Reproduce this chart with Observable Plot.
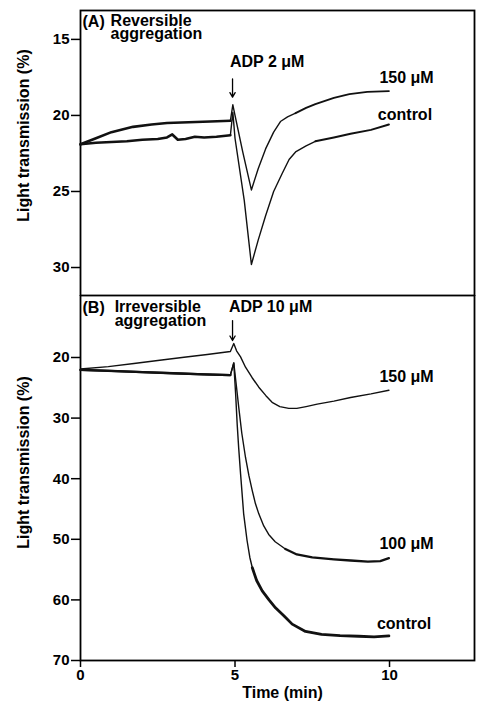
<!DOCTYPE html>
<html><head><meta charset="utf-8">
<script src="https://cdn.jsdelivr.net/npm/d3@7"></script>
<script src="https://cdn.jsdelivr.net/npm/@observablehq/plot@0.6"></script>
<style>
html,body{margin:0;padding:0;background:#fff;}
#chart{width:480px;height:707px;position:relative;overflow:hidden;}
#chart svg{display:block;}
#chart svg + svg{margin-top:-1px;}
</style></head><body><div id="chart"></div>
<script>
// ---------- Data ----------
// Panel A: reversible aggregation, ADP 2 µM
const tA150 = [0, 0.5, 1.0, 1.7, 2.3, 2.8, 3.5, 4.2, 4.85, 4.93, 5.0, 5.25, 5.53, 5.75, 5.99, 6.25, 6.47, 6.7, 6.96, 7.3, 7.6, 8.2, 8.7, 9.28, 9.98];
const vA150 = [21.9, 21.5, 21.1, 20.75, 20.6, 20.5, 20.45, 20.4, 20.35, 19.3, 20.0, 22.4, 24.9, 23.5, 22.2, 21.1, 20.4, 20.1, 19.85, 19.5, 19.25, 18.85, 18.6, 18.45, 18.4];
const tActl = [0, 0.5, 1.0, 1.5, 2.0, 2.5, 2.8, 2.97, 3.15, 3.4, 3.7, 4.0, 4.4, 4.85, 4.93, 5.0, 5.3, 5.53, 5.75, 5.99, 6.25, 6.53, 6.75, 6.96, 7.3, 7.6, 8.2, 8.74, 9.4, 9.98];
const vActl = [21.9, 21.8, 21.75, 21.7, 21.6, 21.55, 21.45, 21.25, 21.6, 21.55, 21.4, 21.45, 21.4, 21.3, 19.8, 21.5, 25.6, 29.8, 28.2, 26.6, 25.0, 23.8, 22.9, 22.4, 22.0, 21.7, 21.45, 21.2, 20.95, 20.6];

// Panel B: irreversible aggregation, ADP 10 µM
const tB150 = [0, 0.9, 1.73, 2.5, 3.35, 4.1, 4.85, 4.96, 5.05, 5.18, 5.34, 5.55, 5.77, 6.0, 6.2, 6.45, 6.74, 7.0, 7.3, 7.66, 8.2, 8.74, 9.4, 9.98];
const vB150 = [21.9, 21.5, 21.0, 20.5, 19.95, 19.5, 19.0, 17.7, 18.9, 19.9, 21.6, 23.3, 24.9, 26.3, 27.4, 28.1, 28.4, 28.4, 28.1, 27.7, 27.2, 26.6, 26.0, 25.4];
const tB100 = [0, 2, 4, 4.85, 4.96, 5.04, 5.12, 5.22, 5.34, 5.45, 5.56, 5.66, 5.77, 5.93, 6.09, 6.3, 6.63, 7.0, 7.5, 8.2, 8.74, 9.3, 9.7, 9.98];
const vB100 = [22.05, 22.4, 22.8, 22.9, 20.9, 24.5, 28.2, 32.5, 36.5, 39.5, 42, 44.1, 45.8, 47.8, 49.2, 50.4, 51.6, 52.5, 53.0, 53.3, 53.5, 53.7, 53.6, 53.1];
const tBctl = [0, 1, 2, 3, 4, 4.85, 4.96, 5.02, 5.07, 5.12, 5.18, 5.28, 5.39, 5.48, 5.56, 5.7, 5.88, 6.1, 6.31, 6.58, 6.85, 7.28, 7.8, 8.4, 9.0, 9.5, 9.98];
const vBctl = [22.05, 22.2, 22.4, 22.6, 22.8, 22.9, 20.9, 26, 31, 35, 39.2, 45.8, 50.2, 53.0, 54.7, 56.8, 58.5, 60.0, 61.3, 62.6, 64.0, 65.2, 65.7, 65.9, 66.0, 66.1, 65.95];

// Axis ticks
const xTicks = [0, 5, 10];
const yTicksA = [15, 20, 25, 30];
const yTicksB = [20, 30, 40, 50, 60, 70];

// Annotations (data coordinates)
const labelsA = [
  {t: 0.0, v: 13.87, text: "(A)", anchor: "start"},
  {t: 6.04, v: 16.5, text: "ADP 2 \u03bcM", anchor: "middle"},
  {t: 10.55, v: 17.5, text: "150 \u03bcM", anchor: "middle"},
  {t: 10.5, v: 19.95, text: "control", anchor: "middle"}
];
const blockA = [{t: 0.91, v: 14.29, text: "Reversible\naggregation"}];
const labelsB = [
  {t: 0.0, v: 11.75, text: "(B)", anchor: "start"},
  {t: 6.15, v: 11.6, text: "ADP 10 \u03bcM", anchor: "middle"},
  {t: 10.55, v: 23.25, text: "150 \u03bcM", anchor: "middle"},
  {t: 10.55, v: 50.7, text: "100 \u03bcM", anchor: "middle"},
  {t: 10.47, v: 63.9, text: "control", anchor: "middle"}
];
const blockB = [{t: 1.04, v: 12.95, text: "Irreversible\naggregation"}];
const arrowA = [{t: 4.92, from: 17.6, to: 18.8}];
const arrowB = [{t: 4.92, from: 13.9, to: 17.2}];

// ---------- Build ----------
const rows = (ts, vs) => ts.map((t, i) => ({t, v: vs[i]}));
const FONT = "'Liberation Sans', Arial, Helvetica, sans-serif";
const common = {
  width: 480, marginLeft: 80, marginRight: 6,
  style: {fontFamily: FONT, fontSize: "15px", fontWeight: "bold", color: "#000", background: "#fff"}
};
const xDomain = [0, 12.75];

function trace(data, segs) {
  return segs.map(([a, b, w]) => Plot.line(data, {
    filter: d => d.t >= a && d.t <= b, x: "t", y: "v",
    stroke: "#111", strokeWidth: w, strokeLinejoin: "round"
  }));
}
function annot(labels) {
  return ["start", "middle"].map(anc => Plot.text(labels.filter(d => d.anchor === anc), {
    x: "t", y: "v", text: "text", textAnchor: anc, fontSize: 16, fill: "#000", dx: anc === "start" ? 2 : 0
  }));
}
function block(data, lh) {
  return Plot.text(data, {x: "t", y: "v", text: "text", textAnchor: "start", lineAnchor: "middle",
    lineHeight: lh, fontSize: 16, fill: "#000", dx: 2});
}
function yTitle(dy) {
  return Plot.text(["Light transmission (%)"], {
    frameAnchor: "left", textAnchor: "middle", rotate: -90, dx: -57, dy, fontSize: 16, fill: "#000"
  });
}

const plotA = Plot.plot({
  ...common, height: 296, marginTop: 10, marginBottom: 1,
  x: {domain: xDomain, axis: null},
  y: {domain: [13.1, 31.84], reverse: true, axis: null},
  marks: [
    Plot.frame({strokeWidth: 1.8}),
    Plot.axisY({ticks: yTicksA, tickSize: 9, tickPadding: 2, strokeWidth: 1.5, label: null, fontSize: 15}),
    ...trace(rows(tA150, vA150), [[0, 4.86, 2.6], [4.85, 7.0, 1.4], [6.96, 10, 1.9]]),
    ...trace(rows(tActl, vActl), [[0, 4.86, 2.6], [4.85, 7.6, 1.4], [7.6, 10, 2.0]]),
    Plot.arrow(arrowA, {x1: "t", x2: "t", y1: "from", y2: "to", headLength: 6, strokeWidth: 1.3, stroke: "#000"}),
    ...annot(labelsA),
    block(blockA, 0.8),
    yTitle(-17.5)
  ]
});

const plotB = Plot.plot({
  ...common, height: 412, marginTop: 0, marginBottom: 47,
  x: {domain: xDomain, axis: null},
  y: {domain: [9.77, 70], reverse: true, axis: null},
  marks: [
    Plot.frame({strokeWidth: 1.8}),
    Plot.axisY({ticks: yTicksB, tickSize: 9, tickPadding: 2, strokeWidth: 1.5, label: null, fontSize: 15}),
    Plot.axisX({ticks: xTicks, tickSize: 7, tickPadding: 2, strokeWidth: 1.5, label: null, fontSize: 15}),
    ...trace(rows(tB150, vB150), [[0, 10, 1.4]]),
    ...trace(rows(tB100, vB100), [[0, 4.86, 2.3], [4.85, 6.7, 1.4], [6.63, 10, 2.3]]),
    ...trace(rows(tBctl, vBctl), [[0, 4.86, 2.3], [4.85, 5.6, 1.4], [5.56, 10, 2.8]]),
    Plot.arrow(arrowB, {x1: "t", x2: "t", y1: "from", y2: "to", headLength: 6, strokeWidth: 1.3, stroke: "#000"}),
    ...annot(labelsB),
    block(blockB, 0.83),
    yTitle(-15.5),
    Plot.text(["Time (min)"], {frameAnchor: "bottom", dx: 5, dy: 37, fontSize: 16, fill: "#000"})
  ]
});

const chart = document.getElementById("chart");
chart.appendChild(plotA);
chart.appendChild(plotB);
</script></body></html>
